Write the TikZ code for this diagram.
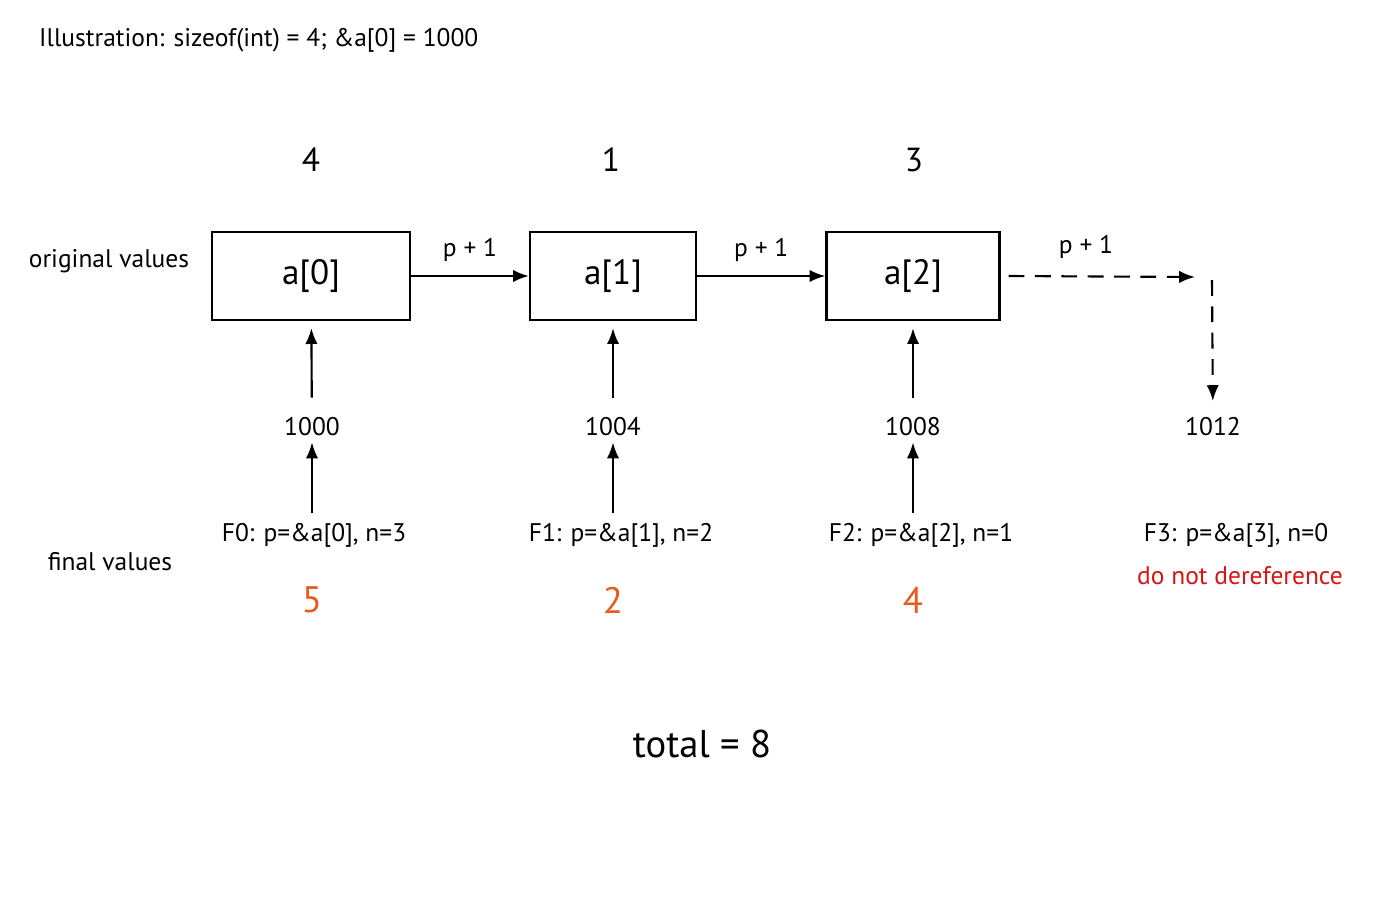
\documentclass[tikz,border=0pt]{standalone}
\usepackage{fontspec}
\setmainfont{PT Sans}
\usetikzlibrary{positioning,arrows.meta}
\definecolor{numorange}{RGB}{232,90,30}
\definecolor{warnred}{RGB}{215,20,20}
\tikzset{
  cell/.style={draw,line width=1.3pt,minimum height=1.76cm,font=\fontsize{20}{24}\selectfont},
  lbl/.style={font=\fontsize{14.5}{17}\selectfont},
  big/.style={font=\fontsize{19}{23}\selectfont},
  res/.style={font=\fontsize{21}{25}\selectfont,text=numorange},
  arr/.style={-{Latex[length=9pt,width=7pt]},line width=1.2pt},
  dsh/.style={dash pattern=on 9pt off 6pt}
}
\begin{document}
\begin{tikzpicture}[x=0.02cm,y=-0.02cm]
  \useasboundingbox (0,0) rectangle (1400,900);
  \node [lbl,anchor=west] (title) at (33,40) {Illustration: sizeof(int) = 4; \&a[0] = 1000};
  \node [lbl] (orig) at (109,261) {original values};
  \node [lbl] (fin) at (110,562) {final values};
  % the array
  \node [cell,minimum width=3.96cm] (a0) at (311,276) {a[0]};
  \node [cell,minimum width=3.32cm] (a1) at (613,276) {a[1]};
  \node [cell,minimum width=3.46cm] (a2) at (913,276) {a[2]};
  \node [big] (v0) at (311,160) {4};
  \node [big] (v1) at (611,160) {1};
  \node [big] (v2) at (914,160) {3};
  \draw [arr] (a0) -- (a1) node [lbl,midway,above=4pt] (s0) {p + 1};
  \draw [arr] (a1) -- (a2) node [lbl,midway,above=4pt] (s1) {p + 1};
  \coordinate (end) at (1195,277);
  \node [lbl] (s2) at (1086,247) {p + 1};
  \draw [arr,dsh] (a2.east) ++(8,0) -- (end);
  % addresses
  \node [lbl] (d0) at (312,427) {1000};
  \node [lbl] (d1) at (613,427) {1004};
  \node [lbl] (d2) at (913,427) {1008};
  \node [lbl] (d3) at (1213,427) {1012};
  \coordinate (top3) at (1212,280);
  \draw [arr,dsh,shorten >=6pt] (top3) -- (d3);
  \node [lbl] (f0) at (314,535) {F0: p=\&a[0], n=3};
  \node [lbl] (f1) at (621,535) {F1: p=\&a[1], n=2};
  \node [lbl] (f2) at (921,535) {F2: p=\&a[2], n=1};
  \node [lbl] (f3) at (1236,535) {F3: p=\&a[3], n=0};
  \node [lbl,text=warnred] (warn) at (1240,576) {do not dereference};
  \foreach \i in {0,1,2} {
    \draw [arr,shorten <=8pt,shorten >=4pt] (d\i) -- (a\i);
    \draw [arr,shorten <=2pt] (f\i.north -| d\i) -- (d\i);
  }
  \node [res] (r0) at (312,600) {5};
  \node [res] (r1) at (613,600) {2};
  \node [res] (r2) at (913,600) {4};
  \node [font=\fontsize{22}{26}\selectfont] (tot) at (702,744) {total = 8};
\end{tikzpicture}
\end{document}
